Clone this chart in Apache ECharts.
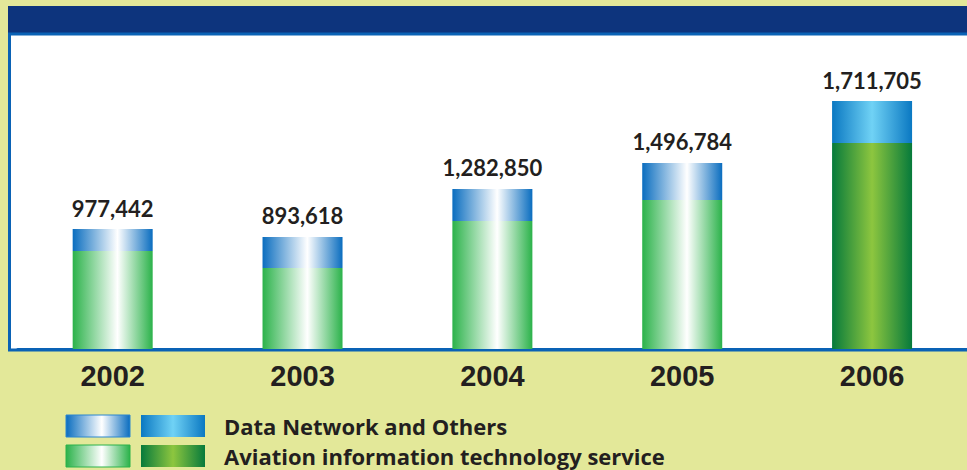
<!DOCTYPE html>
<html>
<head>
<meta charset="utf-8">
<script src="https://cdn.jsdelivr.net/npm/echarts@6/dist/echarts.min.js"></script>
<style>
  html, body { margin: 0; padding: 0; background: #e3e899; }
  #chart { width: 967px; height: 470px; }
</style>
</head>
<body>
<div id="chart"></div>
<script>
const years = ['2002', '2003', '2004', '2005', '2006'];
const aviationValues = [780000, 645000, 1019000, 1186000, 1640000];
const dataNetworkValues = [175000, 247000, 255000, 295000, 334000];
const totalLabels = ['977,442', '893,618', '1,282,850', '1,496,784', '1,711,705'];
const seriesNames = ['Data Network and Others', 'Aviation information technology service'];

function grad(edge, mid, pos) {
  return new echarts.graphic.LinearGradient(0, 0, 1, 0, [
    { offset: 0, color: edge },
    { offset: pos, color: mid },
    { offset: 1, color: edge }
  ]);
}
const lightBlue = () => grad('#0a6dbf', '#ffffff', 0.56);
const darkBlue = () => grad('#0a78c2', '#70d2f5', 0.5);
const lightGreen = () => grad('#2bb24a', '#ffffff', 0.56);
const darkGreen = () => grad('#067a3b', '#8dc63f', 0.5);

const lastIdx = years.length - 1;
const greenData = aviationValues.map((v, i) => ({
  value: v,
  itemStyle: i === lastIdx ? { color: darkGreen() } : { color: lightGreen() }
}));
const blueData = dataNetworkValues.map((v, i) => ({
  value: v,
  itemStyle: i === lastIdx ? { color: darkBlue() } : { color: lightBlue() }
}));

const chart = echarts.init(document.getElementById('chart'), null, { renderer: 'svg' });
const labelFont = 'Lato, "Open Sans", sans-serif';

chart.setOption({
  backgroundColor: '#e3e899',
  animation: false,
  graphic: [
    { type: 'rect', z: -10, shape: { x: 8, y: 6, width: 962, height: 28 }, style: { fill: '#0d347d' } },
    { type: 'rect', z: -9, shape: { x: 9.5, y: 34, width: 962, height: 316 }, style: { fill: '#ffffff', stroke: '#0a62b5', lineWidth: 3 } },
    { type: 'rect', z: 5, shape: { x: 66, y: 415, width: 64, height: 22 }, style: { fill: lightBlue(), stroke: '#2a86cf', lineWidth: 1 } },
    { type: 'rect', z: 5, shape: { x: 66, y: 445, width: 64, height: 22 }, style: { fill: lightGreen(), stroke: '#2bb24a', lineWidth: 1 } }
  ],
  legend: {
    data: [seriesNames[0], seriesNames[1]],
    orient: 'vertical',
    left: 141,
    top: 415,
    padding: 0,
    height: 60,
    itemWidth: 64,
    itemHeight: 22,
    itemGap: 8,
    icon: 'rect',
    selectedMode: false,
    textStyle: {
      fontFamily: '"Open Sans", Lato, sans-serif',
      fontWeight: 'bold',
      fontSize: 22,
      color: '#231f20',
      padding: [0, 0, 0, 14]
    }
  },
  grid: { left: 17.75, width: 952.5, top: 35, height: 314 },
  xAxis: {
    type: 'category',
    data: years,
    axisTick: { show: false },
    axisLine: { show: true, lineStyle: { color: '#0a62b5', width: 3 } },
    axisLabel: {
      margin: 12,
      fontFamily: '"Liberation Sans", Arial, sans-serif',
      fontWeight: 'bold',
      fontSize: 29,
      color: '#231f20'
    }
  },
  yAxis: {
    type: 'value',
    min: 0,
    max: 2500000,
    show: false,
    splitLine: { show: false }
  },
  series: [
    {
      name: seriesNames[1],
      type: 'bar',
      stack: 'total',
      barWidth: 80,
      itemStyle: { color: darkGreen() },
      data: greenData
    },
    {
      name: seriesNames[0],
      type: 'bar',
      stack: 'total',
      barWidth: 80,
      itemStyle: { color: darkBlue() },
      data: blueData,
      label: {
        show: true,
        position: 'top',
        distance: 10,
        fontFamily: labelFont,
        fontWeight: 'bold',
        fontSize: 22,
        color: '#231f20',
        formatter: p => totalLabels[p.dataIndex]
      }
    }
  ]
});
</script>
</body>
</html>
